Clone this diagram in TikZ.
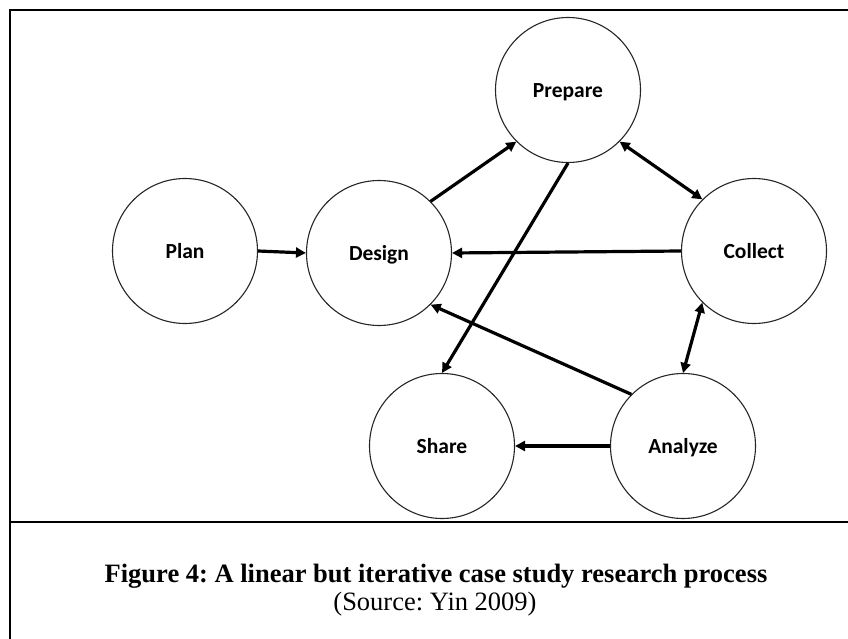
\documentclass[tikz,border=0pt]{standalone}
\usepackage{fontspec}
\setmainfont{Liberation Serif}
\newfontfamily\labelfont{Carlito}
\usetikzlibrary{arrows.meta}
\frenchspacing
\begin{document}
\begin{tikzpicture}[x=1pt,y=-1pt,
  stage/.style={circle, draw=black!85, line width=1.1pt, minimum size=145pt,
    inner sep=0pt, text height=15pt, text depth=0pt,
    font=\labelfont\bfseries\fontsize{21.5}{25}\selectfont},
  flow/.style={line width=3.2pt, -{Triangle[length=10pt,width=10pt]}},
  twoway/.style={line width=3.2pt, {Triangle[length=10pt,width=10pt]}-{Triangle[length=10pt,width=10pt]}},
  rule/.style={line width=2.2pt, line cap=rect}]
  \useasboundingbox (0,0) rectangle (848,639);

  % frame and caption separator
  \coordinate (tl) at (10,10);
  \coordinate (tr) at (848,10);
  \coordinate (bl) at (10,639);
  \coordinate (sl) at (10,522);
  \coordinate (sr) at (848,522);
  \draw[rule] (tr) -- (tl) -- (bl);
  \draw[rule] (sl) -- (sr);

  % process stages
  \node[stage] (plan)    at (185,251) {Plan};
  \node[stage] (design)  at (379,253) {Design};
  \node[stage] (prepare) at (568,90)  {Prepare};
  \node[stage] (collect) at (754,251) {Collect};
  \node[stage] (share)   at (442,446) {Share};
  \node[stage] (analyze) at (683,446) {Analyze};

  % connections
  \draw[flow] (plan.east) -- (design.west);
  \draw[flow] (design.45) -- (prepare.225);
  \draw[twoway] (prepare.-45) -- (collect.135);
  \draw[flow] (collect.west) -- (design.east);
  \draw[flow] (prepare.south) -- (share.north);
  \draw[flow] (analyze.135) -- (design.-45);
  \draw[twoway] (collect.225) -- (analyze.north);
  \draw[flow] (analyze.west) -- (share.east);

  % caption
  \node[anchor=base, font=\bfseries\fontsize{26.5}{31}\selectfont] (cap) at (436,582)
    {Figure 4: A linear but iterative case study research process};
  \node[anchor=base, font=\fontsize{26.5}{31}\selectfont] (src) at (435,610)
    {(Source: Yin 2009)};
\end{tikzpicture}
\end{document}
